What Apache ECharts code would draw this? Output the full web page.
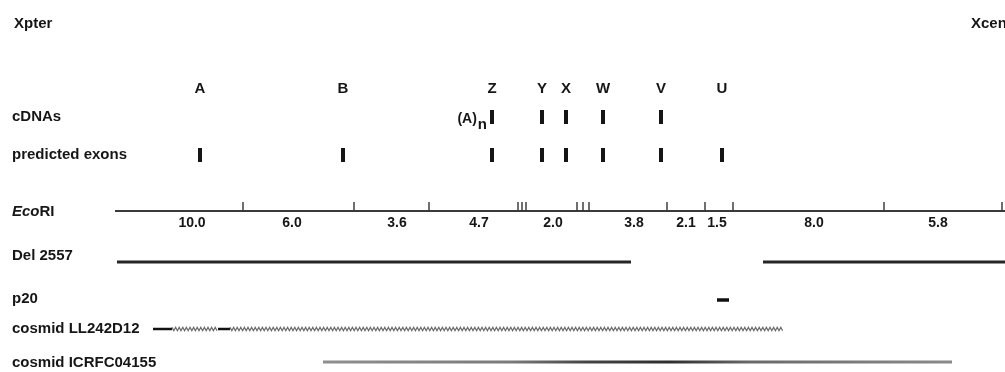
<!DOCTYPE html>
<html>
<head>
<meta charset="utf-8">
<script src="https://cdn.jsdelivr.net/npm/echarts@6/dist/echarts.min.js"></script>
<style>
html,body{margin:0;padding:0;background:#fff;}
#chart{width:1005px;height:372px;}
</style>
</head>
<body>
<div id="chart"></div>
<script>
// ---------------- DATA (map positions, arbitrary map units) ----------------
const endLabels = ['Xpter', 'Xcen'];
const endLabelPos = [14, 971];

const rowLabels = ['cDNAs', 'predicted exons', 'EcoRI', 'Del 2557', 'p20', 'cosmid LL242D12', 'cosmid ICRFC04155'];

const geneNames = ['A', 'B', 'Z', 'Y', 'X', 'W', 'V', 'U'];
const genePos   = [200, 343, 492, 542, 566, 603, 661, 722];
const cdnaGenes = ['Z', 'Y', 'X', 'W', 'V'];
const exonGenes = ['A', 'B', 'Z', 'Y', 'X', 'W', 'V', 'U'];
const polyALabel = '(A)';

const ecoriExtent = [115, 1005];
const ecoriSites = [243, 354, 429, 518, 522, 526, 577, 583, 589, 667, 705, 733, 884, 1002];
const fragmentSizes = ['10.0', '6.0', '3.6', '4.7', '2.0', '3.8', '2.1', '1.5', '8.0', '5.8'];
const fragmentLabelPos = [192, 292, 397, 479, 553, 634, 686, 717, 814, 938];

const del2557Segments = [[117, 631], [763, 1005]];
const p20Segments = [[717, 729]];
const cosmidLLSolid = [[153, 172], [218, 230]];
const cosmidLLHatched = [[172, 218], [230, 783]];
const cosmidICRFSegments = [[323, 952]];

// ---------------- LAYOUT (track rows on the vertical scale) ----------------
const rowY = {
  ends: 24, genes: 89, cdna: 117, exons: 155, ecori: 211, fragLabels: 223,
  del: 262, p20: 300, ll: 329, icrf: 362
};
const rowLabelY = [117, 155, 212, 256, 299, 329, 363];
const labelX = 12;

const FONT = "'Liberation Sans', Arial, Helvetica, sans-serif";
const TXT = '#161616';

// ---------------- CHART ----------------
const chart = echarts.init(document.getElementById('chart'), null, {renderer: 'canvas'});

function textSeries(name, data, opts) {
  return {
    type: 'custom', name, silent: true, data,
    renderItem(params, api) {
      const p = api.coord([api.value(0), api.value(1)]);
      const d = data[params.dataIndex];
      return {
        type: 'text', x: p[0], y: p[1],
        style: Object.assign({
          text: d[2], fill: TXT, font: 'bold 15px ' + FONT,
          align: 'left', verticalAlign: 'middle'
        }, opts || {}, d[3] || {})
      };
    }
  };
}

function segSeries(name, segs, y, color, width) {
  return {
    type: 'custom', name, silent: true,
    data: segs.map(s => [s[0], s[1], y]),
    renderItem(params, api) {
      const a = api.coord([api.value(0), api.value(2)]);
      const b = api.coord([api.value(1), api.value(2)]);
      return {type: 'line', shape: {x1: a[0], y1: a[1], x2: b[0], y2: b[1]},
              style: {stroke: color, lineWidth: width}};
    }
  };
}

function barSeries(name, genes, y) {
  return {
    type: 'custom', name, silent: true,
    data: genes.map(g => [genePos[geneNames.indexOf(g)], y]),
    renderItem(params, api) {
      const c = api.coord([api.value(0), api.value(1)]);
      return {type: 'rect', shape: {x: c[0] - 2, y: c[1] - 7, width: 4, height: 14},
              style: {fill: '#151515'}};
    }
  };
}

const rowLabelData = rowLabels.map((t, i) => {
  const extra = t === 'EcoRI'
    ? {text: '{i|Eco}RI', rich: {i: {fontStyle: 'italic', fontWeight: 'bold', fontSize: 15, fontFamily: FONT, fill: TXT}}}
    : {};
  return [labelX, rowLabelY[i], t, extra];
});

const option = {
  animation: false,
  backgroundColor: '#ffffff',
  grid: {left: 0, right: 0, top: 0, bottom: 0},
  xAxis: {type: 'value', min: 0, max: 1005, show: false},
  yAxis: {type: 'value', min: 0, max: 372, inverse: true, show: false},
  series: [
    textSeries('ends', endLabels.map((t, i) => [endLabelPos[i], rowY.ends, t])),
    textSeries('rowLabels', rowLabelData),
    textSeries('geneNames', geneNames.map((g, i) => [genePos[i], rowY.genes, g]), {align: 'center'}),
    // (A)n label before the first cDNA
    {
      type: 'custom', name: 'polyA', silent: true,
      data: [[genePos[geneNames.indexOf(cdnaGenes[0])], rowY.cdna]],
      renderItem(params, api) {
        const c = api.coord([api.value(0), api.value(1)]);
        return {type: 'text', x: c[0] - 5, y: c[1] + 2,
          style: {text: polyALabel + '{s|n}', align: 'right', verticalAlign: 'middle',
                  font: 'bold 14px ' + FONT, fill: TXT,
                  rich: {s: {fontSize: 15, fontWeight: 'bold', fontFamily: FONT, fill: TXT, padding: [12, 0, 0, 1]}}}};
      }
    },
    barSeries('cDNAs', cdnaGenes, rowY.cdna),
    barSeries('predicted exons', exonGenes, rowY.exons),
    // EcoRI baseline
    segSeries('EcoRI line', [ecoriExtent], rowY.ecori, '#3a3a3a', 2),
    // EcoRI sites
    {
      type: 'custom', name: 'EcoRI sites', silent: true,
      data: ecoriSites.map(s => [s, rowY.ecori]),
      renderItem(params, api) {
        const c = api.coord([api.value(0), api.value(1)]);
        return {type: 'line', shape: {x1: c[0], y1: c[1] - 9, x2: c[0], y2: c[1]},
                style: {stroke: '#333', lineWidth: 1.4}};
      }
    },
    textSeries('fragments', fragmentSizes.map((t, i) => [fragmentLabelPos[i], rowY.fragLabels, t]), {align: 'center', font: 'bold 14px ' + FONT}),
    segSeries('Del 2557', del2557Segments, rowY.del, '#262626', 3),
    segSeries('p20', p20Segments, rowY.p20, '#111', 3.5),
    segSeries('cosmid LL242D12 solid', cosmidLLSolid, rowY.ll, '#111', 2.5),
    // hatched (wavy) part of cosmid LL242D12
    {
      type: 'custom', name: 'cosmid LL242D12 hatched', silent: true,
      data: cosmidLLHatched.map(s => [s[0], s[1], rowY.ll]),
      renderItem(params, api) {
        const a = api.coord([api.value(0), api.value(2)]);
        const b = api.coord([api.value(1), api.value(2)]);
        const pts = [];
        let k = 0;
        for (let x = a[0]; x <= b[0]; x += 1.8, k++) pts.push([x, a[1] + (k % 2 ? 1.7 : -1.7)]);
        return {type: 'polyline', shape: {points: pts},
                style: {stroke: '#6e6e6e', lineWidth: 1.3, fill: null}};
      }
    },
    // cosmid ICRFC04155 with shaded gradient
    {
      type: 'custom', name: 'cosmid ICRFC04155', silent: true,
      data: cosmidICRFSegments.map(s => [s[0], s[1], rowY.icrf]),
      renderItem(params, api) {
        const a = api.coord([api.value(0), api.value(2)]);
        const b = api.coord([api.value(1), api.value(2)]);
        return {type: 'rect', shape: {x: a[0], y: a[1] - 1.5, width: b[0] - a[0], height: 3},
          style: {fill: new echarts.graphic.LinearGradient(0, 0, 1, 0, [
            {offset: 0, color: '#8f8f8f'}, {offset: 0.3, color: '#7a7a7a'},
            {offset: 0.42, color: '#444'}, {offset: 0.55, color: '#2e2e2e'},
            {offset: 0.68, color: '#6a6a6a'}, {offset: 1, color: '#8a8a8a'}])}};
      }
    }
  ]
};
chart.setOption(option);
</script>
</body>
</html>
